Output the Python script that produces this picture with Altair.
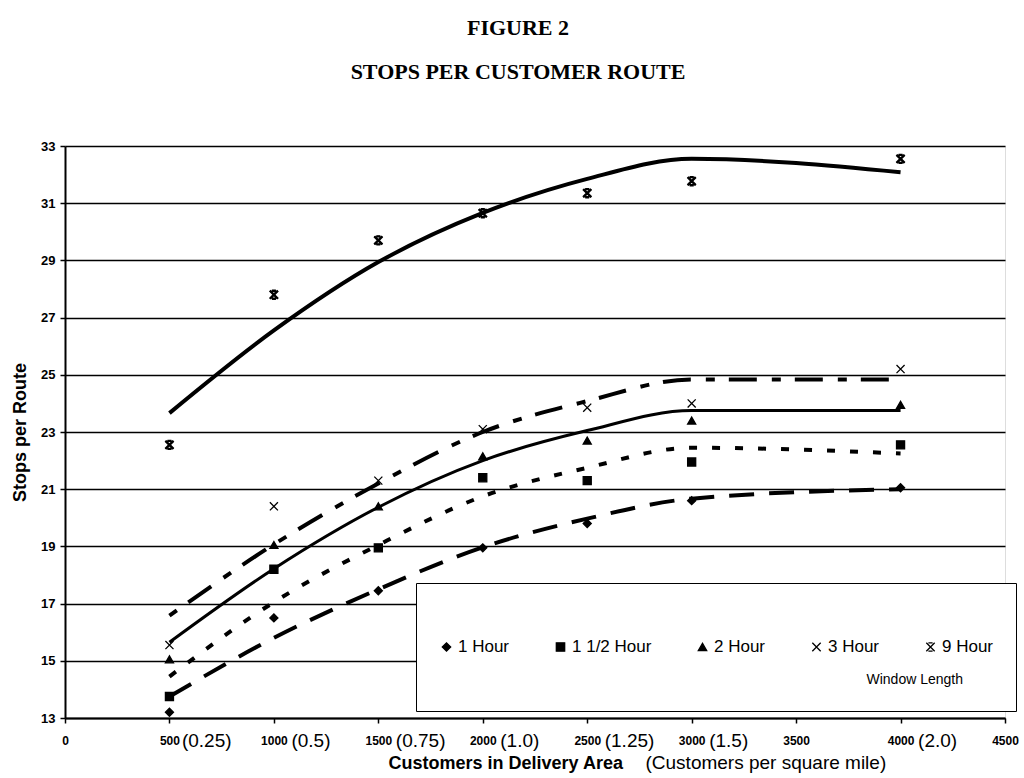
import altair as alt
import pandas as pd

# Delivery-area sizes (customers) at which the simulation was run
customers = [500, 1000, 1500, 2000, 2500, 3000, 4000]
windows = ["1 Hour", "1 1/2 Hour", "2 Hour", "3 Hour", "9 Hour"]

# Observed stops per route for each delivery window length
obs_1h = [13.2, 16.5, 17.45, 18.95, 19.8, 20.6, 21.05]
obs_1_5h = [13.75, 18.2, 18.95, 21.4, 21.3, 21.95, 22.55]
obs_2h = [15.05, 19.05, 20.4, 22.15, 22.7, 23.4, 23.95]
obs_3h = [15.55, 20.4, 21.3, 23.1, 23.85, 24.0, 25.2]
obs_9h = [22.55, 27.8, 29.7, 30.65, 31.35, 31.77, 32.55]

# Fitted trend curves through the observations
fit_1h = [13.75, 15.8, 17.5, 18.97, 19.97, 20.67, 21.0]
fit_1_5h = [14.45, 17.05, 19.05, 20.75, 21.75, 22.45, 22.25]
fit_2h = [15.65, 18.22, 20.37, 22.0, 23.05, 23.75, 23.75]
fit_3h = [16.58, 19.07, 21.2, 23.0, 24.08, 24.84, 24.84]
fit_9h = [23.66, 26.55, 28.94, 30.66, 31.85, 32.55, 32.08]

# Axis ticks and the customer-density labels shown beside them
x_ticks = [0, 500, 1000, 1500, 2000, 2500, 3000, 3500, 4000, 4500]
density_labels = ["", "(0.25)", "(0.5)", "(0.75)", "(1.0)", "(1.25)", "(1.5)", "", "(2.0)", ""]
y_ticks = [13, 15, 17, 19, 21, 23, 25, 27, 29, 31, 33]

obs_series = [obs_1h, obs_1_5h, obs_2h, obs_3h, obs_9h]
fit_series = [fit_1h, fit_1_5h, fit_2h, fit_3h, fit_9h]

obs_df = pd.DataFrame(
    [{"customers": c, "stops": s, "window": w}
     for w, ys in zip(windows, obs_series) for c, s in zip(customers, ys)]
)
fit_df = pd.DataFrame(
    [{"customers": c, "stops": s, "window": w}
     for w, ys in zip(windows, fit_series) for c, s in zip(customers, ys)]
)

SANS = "Liberation Sans, Arial"
SERIF = "Liberation Serif, Times New Roman"

x_scale = alt.Scale(domain=[0, 4500], nice=False)
y_scale = alt.Scale(domain=[13, 33], nice=False)

y_axis = alt.Axis(
    values=y_ticks, labelFont=SANS, labelFontSize=13, labelFontWeight="bold",
    labelColor="black", labelPadding=5, tickSize=5, tickColor="black", tickWidth=1.5,
    domainColor="black", domainWidth=2, grid=True, gridColor="black", gridWidth=1.5,
    gridOpacity=1, title="Stops per Route", titleFont=SANS, titleFontSize=18,
    titleFontWeight="bold", titleColor="black", titleX=-45, titleY=286, titleAngle=270,
    titleAlign="center", titleBaseline="middle",
)

# Primary x axis: customer counts in a small bold face
count_axis = alt.Axis(
    values=x_ticks, format="d", orient="bottom", labelFont=SANS, labelFontSize=12,
    labelFontWeight="bold", labelColor="black", labelFlush=False, labelOverlap=False,
    labelBaseline="middle", labelPadding=17, tickSize=5, tickColor="black", tickWidth=1.5,
    domainColor="black", domainWidth=2, grid=False,
    title="Customers in Delivery Area", titleFont=SANS, titleFontSize=18,
    titleFontWeight="bold", titleColor="black", titleX=323, titleY=50,
    titleAlign="left", titleBaseline="alphabetic",
)

density_expr = "[" + ",".join("'%s'" % d for d in density_labels) + "][round(datum.value / 500)]"

# Secondary x axis: customers per square mile, set to the right of each count
density_axis = alt.Axis(
    values=x_ticks, orient="bottom", labelExpr=density_expr, labelFont=SANS,
    labelFontSize=19, labelColor="black", labelFlush=False, labelOverlap=False,
    labelAlign="left", labelBaseline="middle", labelPadding=17,
    labelOffset={"condition": {"test": "datum.value == 500", "value": 12}, "value": 17},
    tickSize=5, tickOpacity=0, domain=False, grid=False,
    title="(Customers per square mile)", titleFont=SANS, titleFontSize=19,
    titleFontWeight="normal", titleColor="black", titleX=580, titleY=50,
    titleAlign="left", titleBaseline="alphabetic",
)

# Line style of each fitted curve, in the order of `windows`
dash_styles = [[25, 15], [8, 15], None, [9, 14, 28, 15], None]
line_widths = [4, 4, 3, 4, 4]

line_layers = []
for w, dash, width in zip(windows, dash_styles, line_widths):
    style = dict(color="black", interpolate="monotone", strokeCap="butt", strokeWidth=width)
    if dash:
        style["strokeDash"] = dash
    line_layers.append(
        alt.Chart(fit_df)
        .transform_filter(alt.datum.window == w)
        .mark_line(**style)
        .encode(
            x=alt.X("customers:Q", scale=x_scale, axis=count_axis),
            y=alt.Y("stops:Q", scale=y_scale, axis=y_axis),
        )
    )
lines = alt.layer(*line_layers)

x_path = "M-1,-1L1,1M-1,1L1,-1"
star_path = "M-1,-1L1,1M-1,1L1,-1M-0.5,-1L0.5,-1M-0.5,1L0.5,1"
shape_range = ["diamond", "square", "triangle-up", x_path, star_path]

# Blank braille cells keep the legend title clear of the right edge
title_pad = "\u2800" * 3

window_legend = alt.Legend(
    orient="none", legendX=351, legendY=437, direction="horizontal", columns=5,
    title="Window Length" + title_pad, titleOrient="bottom", titleAnchor="end",
    titlePadding=-16, titleFont=SANS, titleFontSize=14, titleFontWeight="normal",
    titleColor="black", labelFont=SANS, labelFontSize=17, labelColor="black",
    labelOffset=3, symbolSize=70, symbolStrokeWidth=1.3, symbolOpacity=1,
    strokeColor="black", fillColor="white",
    padding=22, columnPadding=42, clipHeight=84,
)

markers = alt.Chart(obs_df).mark_point(
    filled=True, color="black", fill="black", stroke="black", strokeWidth=1.3,
    opacity=1, size=65,
).encode(
    x=alt.X("customers:Q", scale=x_scale, axis=density_axis),
    y=alt.Y("stops:Q", scale=y_scale, axis=y_axis),
    shape=alt.Shape("window:N", scale=alt.Scale(domain=windows, range=shape_range),
                    legend=window_legend),
)

# Heavier stroke for the 9-hour star markers
star_overlay = alt.Chart(obs_df).transform_filter(alt.datum.window == "9 Hour").mark_point(
    shape=star_path, fill="black", stroke="black", strokeWidth=2.4, opacity=1, size=65,
).encode(
    x=alt.X("customers:Q", scale=x_scale, axis=density_axis),
    y=alt.Y("stops:Q", scale=y_scale, axis=y_axis),
)
points = alt.layer(markers, star_overlay)

chart = (
    alt.layer(lines, points)
    .resolve_axis(x="independent")
    .properties(
        width=940,
        height=572,
        autosize=alt.AutoSizeParams(type="none"),
        padding={"left": 65, "top": 146, "right": 19, "bottom": 60},
        title=alt.Title(
            "FIGURE 2", subtitle="STOPS PER CUSTOMER ROUTE", font=SERIF, fontSize=22,
            fontWeight="bold", color="black", subtitleFont=SERIF, subtitleFontSize=22,
            subtitleFontWeight="bold", subtitleColor="black", subtitlePadding=22,
            anchor="middle", dx=-17, offset=56,
        ),
    )
    .configure_view(stroke="black", strokeWidth=1.5)
    .configure_legend(strokeWidth=2)
    .configure(background="white")
)

chart.save("out.html", embed_options={"renderer": "svg", "actions": False})
